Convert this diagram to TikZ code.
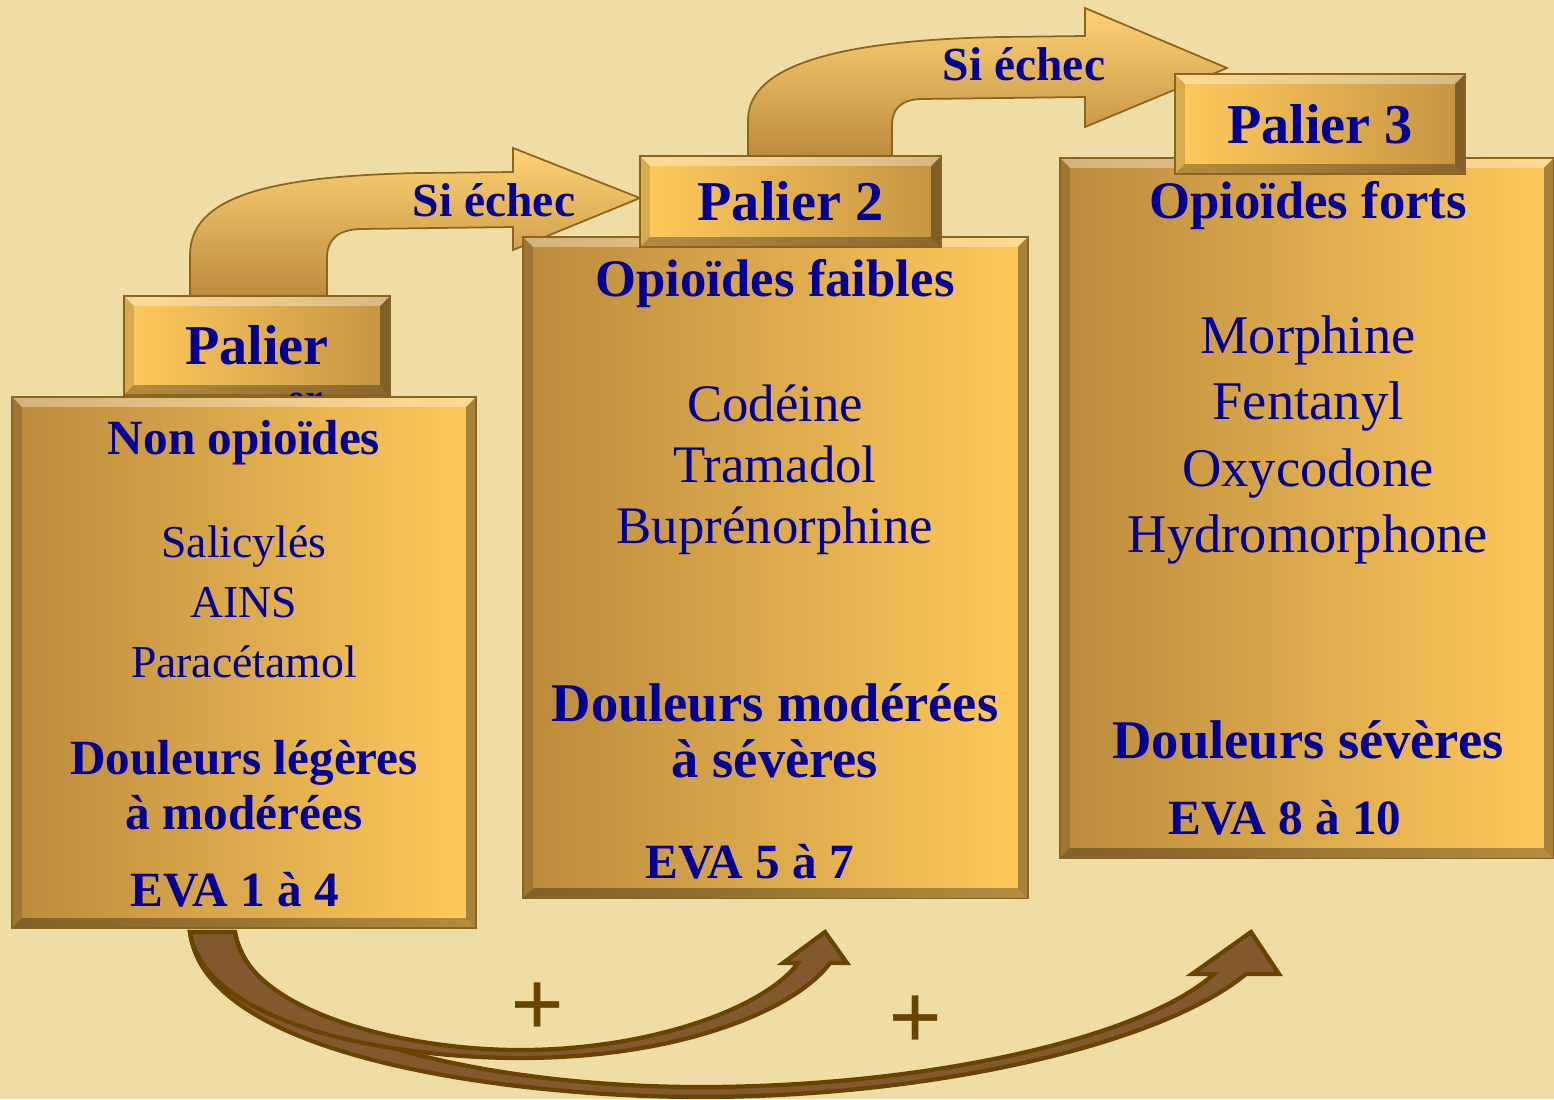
\documentclass[tikz,border=0pt]{standalone}
\usepackage{fontspec}
\setmainfont{Liberation Serif}
\usetikzlibrary{positioning}
\usepackage{xcolor}
\definecolor{parchment}{RGB}{238,222,165}
\definecolor{golddark}{RGB}{186,138,60}
\definecolor{goldlight}{RGB}{255,202,92}
\definecolor{goldedge}{RGB}{140,100,30}
\definecolor{navytext}{RGB}{0,0,150}
\definecolor{brownarrow}{RGB}{130,88,46}
\definecolor{brownedge}{RGB}{105,68,0}

\tikzset{
  bevel/.style={path picture={
    \fill[white,opacity=0.35] (path picture bounding box.north west) -- (path picture bounding box.north east)
      -- ([xshift=-1mm,yshift=-1mm]path picture bounding box.north east) -- ([xshift=1mm,yshift=-1mm]path picture bounding box.north west) -- cycle;
    \fill[black,opacity=0.15] (path picture bounding box.north west) -- ([xshift=1mm,yshift=-1mm]path picture bounding box.north west)
      -- ([xshift=1mm,yshift=1mm]path picture bounding box.south west) -- (path picture bounding box.south west) -- cycle;
    \fill[black,opacity=0.35] (path picture bounding box.north east) -- ([xshift=-1mm,yshift=-1mm]path picture bounding box.north east)
      -- ([xshift=-1mm,yshift=1mm]path picture bounding box.south east) -- (path picture bounding box.south east) -- cycle;
    \fill[black,opacity=0.3] (path picture bounding box.south west) -- ([xshift=1mm,yshift=1mm]path picture bounding box.south west)
      -- ([xshift=-1mm,yshift=1mm]path picture bounding box.south east) -- (path picture bounding box.south east) -- cycle;
  }},
  goldbox/.style={rectangle,draw=goldedge,line width=0.4pt,inner sep=0pt,left color=golddark,right color=goldlight,bevel},
  palbox/.style={rectangle,draw=goldedge,line width=0.4pt,inner sep=0pt,left color=goldlight,right color=golddark!85!goldlight,bevel,
    font=\bfseries\fontsize{16}{19}\selectfont},
  arrowfill/.style={draw=goldedge,line width=0.5pt,top color=goldlight!85!white,bottom color=golddark},
  brownfill/.style={fill=brownarrow,draw=brownedge,line width=1.2pt},
  plus/.style={text=brownedge,font=\bfseries\fontsize{27}{27}\selectfont},
  title/.style={font=\bfseries\fontsize{15}{18}\selectfont},
  pain/.style={font=\bfseries\fontsize{15.5}{16}\selectfont,align=center},
  eva/.style={font=\bfseries\fontsize{14}{17}\selectfont},
  drug/.style={font=\fontsize{15}{17.4}\selectfont,align=center},
}

\begin{document}
\begin{tikzpicture}[x=0.01cm,y=-0.01cm,text=navytext]
\fill[parchment] (0,0) rectangle (1554,1099);
\useasboundingbox (0,0) rectangle (1554,1099);

% bottom arrows
\coordinate (tipA) at (825,932);
\coordinate (tipB) at (1251,932);
\path[brownfill] (190,932) .. controls (205,1060) and (520,1097) .. (700,1097) .. controls (930,1097) and (1160,1045) .. (1246,974)
  -- (1279,974) -- (tipB) -- (1192,974) -- (1214,974) .. controls (1140,1040) and (920,1087) .. (700,1087)
  .. controls (500,1087) and (255,1040) .. (235,932) -- cycle;
\path[brownfill] (190,932) .. controls (205,1025) and (390,1058) .. (520,1058) .. controls (680,1058) and (795,1010) .. (830,963)
  -- (847,963) -- (tipA) -- (783,963) -- (798,963) .. controls (765,1008) and (650,1050) .. (520,1050)
  .. controls (400,1050) and (245,1010) .. (235,932) -- cycle;
\node[plus] (plus1) at (538,1010) {+};
\node[plus] (plus2) at (916,1023) {+};

% bent arrows
\coordinate (tip1) at (640,198);
\coordinate (tip2) at (1227,68);
\path[arrowfill] (190,300) -- (190,255) .. controls (190,198) and (265,176) .. (420,173) -- (513,172) -- (513,148) -- (tip1)
  -- (513,250) -- (513,227) -- (360,229) .. controls (337,230) and (327,240) .. (327,258) -- (327,300) -- cycle;
\path[arrowfill] (748,160) -- (748,120) .. controls (748,62) and (850,40) .. (1000,37) -- (1085,36) -- (1085,8) -- (tip2)
  -- (1085,127) -- (1085,97) -- (920,99) .. controls (900,100) and (892,110) .. (892,125) -- (892,160) -- cycle;

% paliers
\node[palbox,minimum width=2.66cm,minimum height=0.99cm] (pal1) at (257,345.5) {Palier};
\node[font=\bfseries\fontsize{16}{19}\selectfont,anchor=base,inner sep=0pt] (pal1b) at (292,434) {1\textsuperscript{er}};
\node[goldbox,minimum width=4.64cm,minimum height=5.31cm] (box1) at (244,662.5) {};
\node[goldbox,minimum width=5.05cm,minimum height=6.61cm] (box2) at (775.5,567.5) {};
\node[goldbox,minimum width=4.94cm,minimum height=7.00cm] (box3) at (1307,508) {};
\node[palbox,minimum width=3.01cm,minimum height=0.91cm] (pal2) at (790.5,201.5) {Palier 2};
\node[palbox,minimum width=2.90cm,minimum height=1.00cm] (pal3) at (1320,124) {Palier 3};

% palier 1
\node[title,font=\bfseries\fontsize{14}{17}\selectfont] (cls1) at (244,443) {Non opioïdes};
\node[drug,font=\fontsize{13}{17}\selectfont] (med1) at (244,602) {Salicylés\\AINS\\Paracétamol};
\node[pain,font=\bfseries\fontsize{14}{15.6}\selectfont] (dol1) at (244,785) {Douleurs légères\\à modérées};
\node[eva] (eva1) at (235,890) {EVA 1 à 4};

% palier 2
\node[title] (cls2) at (775,284) {Opioïdes faibles};
\node[drug] (med2) at (775,470) {Codéine\\Tramadol\\Buprénorphine};
\node[pain] (dol2) at (775,731) {Douleurs modérées\\à sévères};
\node[eva] (eva2) at (750,862) {EVA 5 à 7};

% palier 3
\node[title] (cls3) at (1308,206) {Opioïdes forts};
\node[drug,font=\fontsize{15.5}{18.8}\selectfont] (med3) at (1308,440) {Morphine\\Fentanyl\\Oxycodone\\Hydromorphone};
\node[pain] (dol3) at (1308,740) {Douleurs sévères};
\node[eva] (eva3) at (1285,818) {EVA 8 à 10};

% echecs
\node[font=\bfseries\fontsize{13.5}{16}\selectfont] (echec1) at (494,200) {Si échec};
\node[font=\bfseries\fontsize{13.5}{16}\selectfont] (echec2) at (1024,64) {Si échec};
\end{tikzpicture}
\end{document}
